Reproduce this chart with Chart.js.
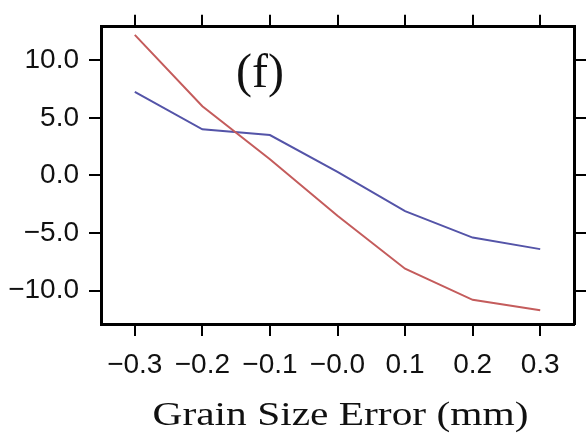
<!DOCTYPE html>
<html>
<head>
<meta charset="utf-8">
<script src="https://cdn.jsdelivr.net/npm/chart.js@4.4.1/dist/chart.umd.min.js"></script>
<style>
html,body{margin:0;padding:0;background:#fff;}
#wrap{width:586px;height:435px;}
</style>
</head>
<body>
<div id="wrap"><canvas id="c" width="586" height="435"></canvas></div>
<script>
const grainErrors = [-0.3, -0.2, -0.1, 0.0, 0.1, 0.2, 0.3];
const redSeries = [12.2, 6.0, 1.4, -3.5, -8.1, -10.8, -11.7];
const blueSeries = [7.25, 4.0, 3.5, 0.3, -3.1, -5.4, -6.4];
const xTickValues = [-0.3, -0.2, -0.1, 0.0, 0.1, 0.2, 0.3];
const xTickLabels = ['\u22120.3', '\u22120.2', '\u22120.1', '\u22120.0', '0.1', '0.2', '0.3'];
const yTickValues = [-10, -5, 0, 5, 10];
const yTickLabels = ['\u221210.0', '\u22125.0', '0.0', '5.0', '10.0'];
const panelLabel = '(f)';
const xTitle = 'Grain Size Error (mm)';

function pts(ys){ return grainErrors.map((x,i)=>({x:x,y:ys[i]})); }
function setTicks(values){ return function(scale){ scale.ticks = values.map(v=>({value:v})); }; }
function labelFrom(values, labels){ return function(v){ const i = values.findIndex(t=>Math.abs(t-v)<1e-9); return i>=0 ? labels[i] : ''; }; }

const tickFont = {family:'"Liberation Sans", Arial, sans-serif', size:28};
const gridOpts = {display:true, drawOnChartArea:false, drawTicks:true, tickLength:12, color:'#000', lineWidth:2};
const borderOpts = {display:true, color:'#000', width:3};

const textPlugin = {
  id:'texts',
  afterDraw(chart){
    const ctx = chart.ctx;
    const xs = chart.scales.x;
    ctx.save();
    ctx.fillStyle = '#111';
    ctx.textAlign = 'center';
    ctx.textBaseline = 'alphabetic';
    ctx.font = '48px "Liberation Serif", "Times New Roman", serif';
    ctx.fillText(panelLabel, 260, 87);
    // axis title, horizontally stretched like the reference
    ctx.font = '34px "Liberation Serif", "Times New Roman", serif';
    const w = ctx.measureText(xTitle).width;
    const sx = 376 / w;
    const cx = (xs.left + xs.right) / 2 + 3;
    ctx.translate(cx, 425);
    ctx.scale(sx, 1);
    ctx.fillText(xTitle, 0, 0);
    ctx.restore();
  }
};

new Chart(document.getElementById('c'), {
  type:'scatter',
  data:{datasets:[
    {data:pts(redSeries), showLine:true, borderColor:'rgb(196,92,92)', borderWidth:2, pointRadius:0, tension:0},
    {data:pts(blueSeries), showLine:true, borderColor:'rgb(84,84,168)', borderWidth:2, pointRadius:0, tension:0}
  ]},
  options:{
    responsive:false, animation:false,
    layout:{padding:0},
    plugins:{legend:{display:false}, tooltip:{enabled:false}},
    scales:{
      x:{type:'linear', position:'bottom', min:-0.35, max:0.35,
         afterBuildTicks:setTicks(xTickValues),
         afterFit(s){ s.height = 111; },
         ticks:{font:tickFont, color:'#111', padding:12, maxRotation:0, autoSkip:false, callback:labelFrom(xTickValues,xTickLabels)},
         grid:gridOpts, border:borderOpts,
         title:{display:false}
      },
      x2:{type:'linear', position:'top', min:-0.35, max:0.35,
         afterBuildTicks:setTicks(xTickValues),
         afterFit(s){ s.height = 21; },
         ticks:{display:false}, grid:gridOpts, border:borderOpts},
      y:{type:'linear', position:'left', min:-12.9, max:12.9,
         afterBuildTicks:setTicks(yTickValues),
         afterFit(s){ s.width = 101; },
         ticks:{font:tickFont, color:'#111', padding:10, autoSkip:false, callback:labelFrom(yTickValues,yTickLabels)},
         grid:gridOpts, border:borderOpts},
      y2:{type:'linear', position:'right', min:-12.9, max:12.9,
         afterBuildTicks:setTicks(yTickValues),
         afterFit(s){ s.width = 12; },
         ticks:{display:false}, grid:gridOpts, border:borderOpts}
    }
  },
  plugins:[textPlugin]
});
</script>
</body>
</html>
